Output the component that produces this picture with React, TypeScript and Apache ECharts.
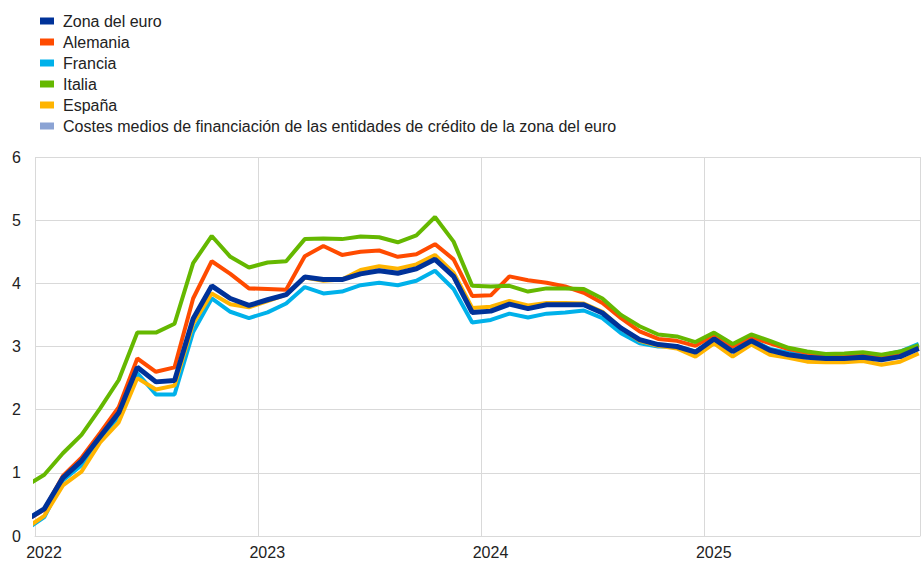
import React, { useEffect, useRef } from "react";
import * as echarts from "echarts";

// Monthly observations from Dec 2021 to Dec 2025 (first one lies left of the axis and is clipped)
const startYear = 2021;
const startMonth = 12;
const yearLabels = ["2022", "2023", "2024", "2025"];

const zonaEuro = [
  0.25,
  0.43, 0.92, 1.19, 1.57, 1.95, 2.67, 2.44, 2.46, 3.44, 3.96, 3.76, 3.65,
  3.74, 3.82, 4.10, 4.06, 4.06, 4.15, 4.20, 4.16, 4.23, 4.38, 4.11, 3.54,
  3.56, 3.67, 3.60, 3.66, 3.66, 3.66, 3.53, 3.29, 3.11, 3.03, 3.00, 2.91,
  3.12, 2.92, 3.09, 2.94, 2.87, 2.83, 2.81, 2.81, 2.83, 2.79, 2.84, 2.97,
];
const alemania = [
  0.24,
  0.42, 0.95, 1.24, 1.63, 2.04, 2.81, 2.60, 2.67, 3.76, 4.35, 4.15, 3.92,
  3.91, 3.90, 4.43, 4.59, 4.45, 4.50, 4.52, 4.42, 4.46, 4.62, 4.38, 3.80,
  3.81, 4.11, 4.05, 4.01, 3.95, 3.85, 3.69, 3.45, 3.24, 3.12, 3.09, 3.01,
  3.18, 3.00, 3.15, 3.05, 2.96, 2.90, 2.86, 2.86, 2.88, 2.85, 2.90, 3.00,
];
const francia = [
  0.10,
  0.30, 0.88, 1.12, 1.55, 1.88, 2.58, 2.24, 2.24, 3.23, 3.76, 3.55, 3.45,
  3.54, 3.68, 3.94, 3.84, 3.87, 3.97, 4.01, 3.97, 4.04, 4.20, 3.91, 3.38,
  3.42, 3.52, 3.46, 3.52, 3.54, 3.57, 3.45, 3.21, 3.05, 3.00, 3.00, 2.92,
  3.13, 2.93, 3.11, 2.96, 2.90, 2.86, 2.84, 2.84, 2.86, 2.86, 2.92, 3.04,
];
const italia = [
  0.79,
  0.97, 1.31, 1.60, 2.02, 2.47, 3.22, 3.22, 3.36, 4.32, 4.75, 4.42, 4.25,
  4.33, 4.35, 4.70, 4.71, 4.70, 4.74, 4.73, 4.65, 4.76, 5.05, 4.66, 3.96,
  3.95, 3.96, 3.87, 3.92, 3.92, 3.91, 3.76, 3.50, 3.32, 3.19, 3.16, 3.07,
  3.22, 3.04, 3.19, 3.09, 2.98, 2.92, 2.88, 2.89, 2.91, 2.87, 2.92, 3.02,
];
const espana = [
  0.12,
  0.32, 0.80, 1.02, 1.48, 1.80, 2.50, 2.32, 2.38, 3.36, 3.84, 3.67, 3.62,
  3.72, 3.82, 4.09, 4.04, 4.06, 4.21, 4.27, 4.23, 4.30, 4.45, 4.17, 3.61,
  3.63, 3.72, 3.65, 3.69, 3.69, 3.68, 3.55, 3.29, 3.09, 3.01, 2.97, 2.84,
  3.05, 2.84, 3.03, 2.87, 2.82, 2.76, 2.75, 2.75, 2.77, 2.71, 2.76, 2.89,
];
const costesMedios: number[] = [];

const names = [
  "Zona del euro",
  "Alemania",
  "Francia",
  "Italia",
  "España",
  "Costes medios de financiación de las entidades de crédito de la zona del euro",
];
const colors = ["#003299", "#ff4b00", "#00b1ea", "#65b800", "#ffb400", "#8ba3d4"];

// month position on the axis: months since Jan 2022, placed at mid-month
function toPairs(values: number[]) {
  return values.map((v, i) => {
    const monthsFromStart = (startYear - 2022) * 12 + (startMonth - 1) + i;
    return [monthsFromStart + 0.5, v];
  });
}

const FONT = "'Liberation Sans', Arial, sans-serif";

export default function App() {
  const ref = useRef<HTMLDivElement>(null);
  useEffect(() => {
    if (!ref.current) return;
    const chart = echarts.init(ref.current, undefined, { renderer: "svg" });
    const seriesDefs = [
      { name: names[5], data: costesMedios, color: colors[5], width: 4 },
      { name: names[2], data: francia, color: colors[2], width: 4 },
      { name: names[4], data: espana, color: colors[4], width: 4 },
      { name: names[1], data: alemania, color: colors[1], width: 4 },
      { name: names[3], data: italia, color: colors[3], width: 4 },
      { name: names[0], data: zonaEuro, color: colors[0], width: 5 },
    ];
    chart.setOption({
      animation: false,
      textStyle: { fontFamily: FONT },
      legend: {
        data: names,
        orient: "vertical",
        left: 35,
        top: 8,
        itemWidth: 14,
        itemHeight: 7,
        itemGap: 5,
        icon: "rect",
        selectedMode: false,
        textStyle: {
          fontFamily: FONT,
          fontSize: 16,
          lineHeight: 16,
          color: "#222",
          padding: [0, 0, 0, 4],
        },
      },
      grid: { left: 35, right: 0, top: 157, bottom: 26, containLabel: false },
      xAxis: {
        type: "value",
        min: 0,
        max: 47.57,
        interval: 12,
        axisLine: { show: true, lineStyle: { color: "#d9d9d9", width: 1 } },
        axisTick: { show: false },
        splitLine: { show: true, lineStyle: { color: "#d9d9d9", width: 1 } },
        axisLabel: {
          fontFamily: FONT,
          fontSize: 16,
          color: "#222",
          margin: 8,
          padding: [0, 0, 0, 18],
          formatter: (v: number) => {
            const idx = Math.round(v / 12);
            return v % 12 === 0 && yearLabels[idx] ? yearLabels[idx] : "";
          },
        },
      },
      yAxis: {
        type: "value",
        min: 0,
        max: 6,
        interval: 1,
        axisLine: { show: false },
        axisTick: { show: false },
        splitLine: { show: true, lineStyle: { color: "#d9d9d9", width: 1 } },
        axisLabel: { fontFamily: FONT, fontSize: 16, color: "#222", margin: 14 },
      },
      series: seriesDefs.map((s) => ({
        type: "line",
        name: s.name,
        data: toPairs(s.data),
        showSymbol: false,
        symbol: "none",
        clip: true,
        color: s.color,
        itemStyle: { color: s.color },
        lineStyle: { color: s.color, width: s.width },
      })),
    });
    return () => chart.dispose();
  }, []);
  return (
    <div
      ref={ref}
      style={{ position: "absolute", left: 0, top: 0, width: 923, height: 562 }}
    />
  );
}
